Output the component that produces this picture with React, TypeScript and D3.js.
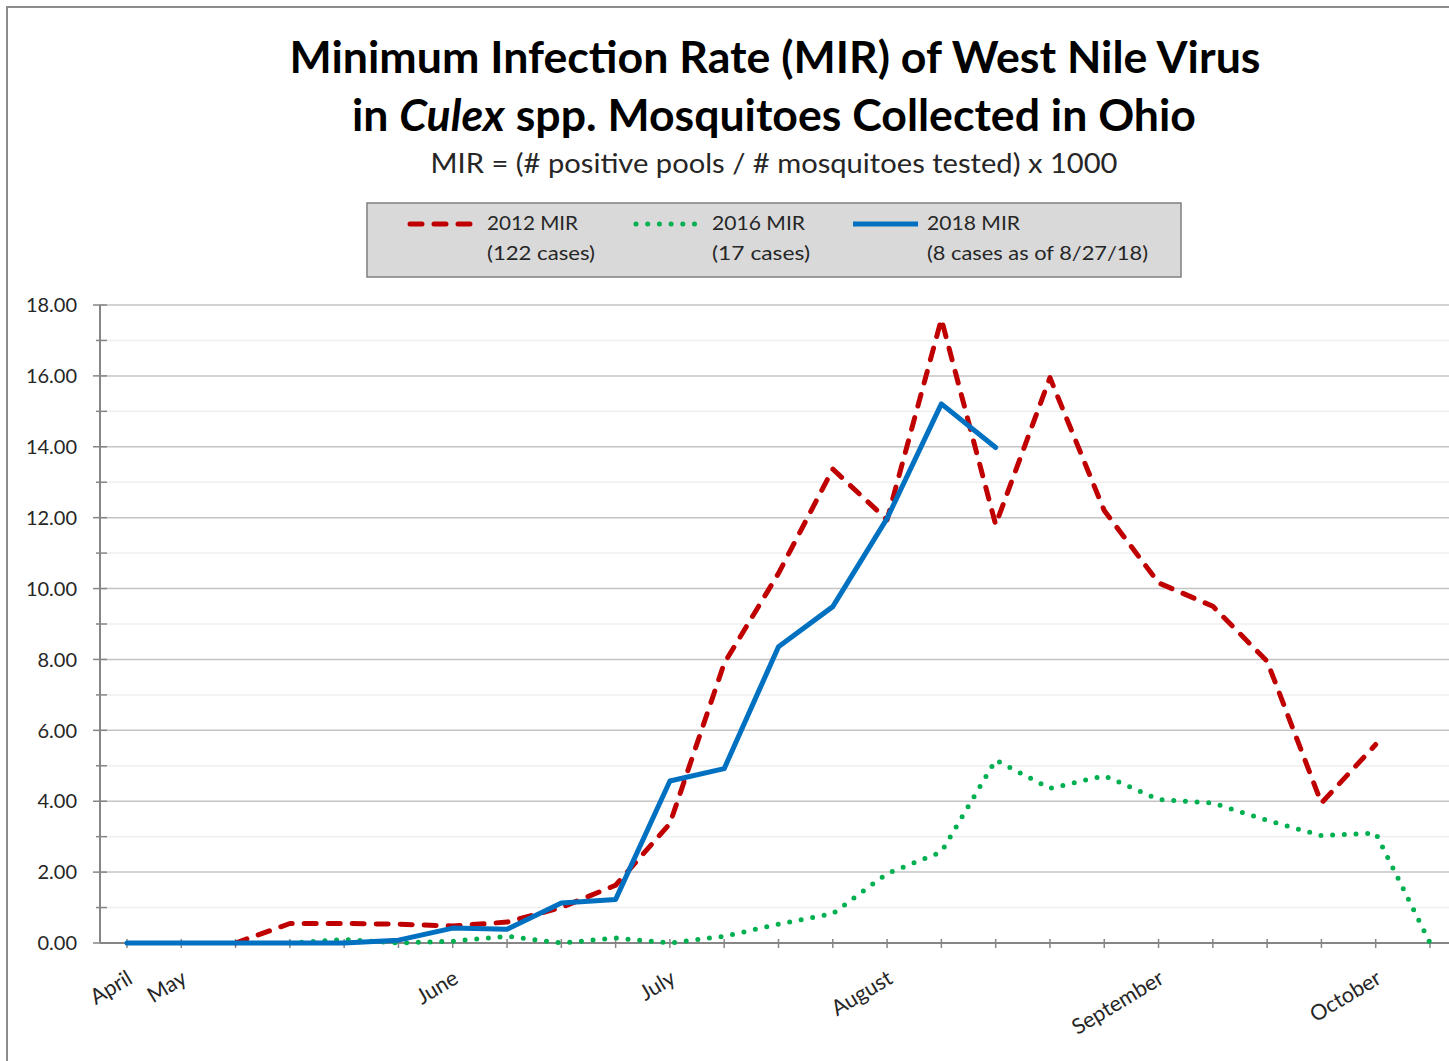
import * as d3 from "d3";
import { useRef, useEffect } from "react";

// weekly categories (x axis), most labels blank like the Excel source
const weekLabels = [
  "April", "May", "", "", "", "", "June", "", "", "", "July", "", "", "",
  "August", "", "", "", "", "September", "", "", "", "October", "",
];

const mir2012 = [
  null, null, 0, 0.55, 0.55, 0.53, 0.48, 0.59, 1.0, 1.63, 3.37, 7.89, 10.43,
  13.37, 11.94, 17.6, 11.8, 15.95, 12.2, 10.16, 9.5, 7.95, 3.95, 5.6, null,
];
const mir2016 = [
  null, null, null, 0, 0.1, 0, 0.05, 0.19, 0, 0.14, 0, 0.19, 0.53, 0.83, 1.96,
  2.57, 5.16, 4.36, 4.72, 4.05, 3.95, 3.46, 3.03, 3.1, 0,
];
const mir2018 = [
  0, 0, 0, 0, 0, 0.08, 0.42, 0.39, 1.13, 1.23, 4.57, 4.92, 8.36, 9.49, 11.98,
  15.21, 13.98, null, null, null, null, null, null, null, null,
];

const yTicks = [0, 2, 4, 6, 8, 10, 12, 14, 16, 18];

const seriesInfo = [
  { name: "2012 MIR", note: "(122 cases)", values: mir2012, color: "#c00000", dash: "12 12", width: 5 },
  { name: "2016 MIR", note: "(17 cases)", values: mir2016, color: "#00b050", dash: "0 11.7", width: 5 },
  { name: "2018 MIR", note: "(8 cases as of 8/27/18)", values: mir2018, color: "#0070c0", dash: null, width: 5 },
];

export default function App() {
  const width = 1449;
  const height = 1061;
  const plotLeft = 100;
  const plotTop = 305;
  const plotBottom = 943;
  const font = "Lato, 'Open Sans', sans-serif";

  const ref = useRef(null);
  useEffect((): void => {
    if (!ref.current) return;
    const svg = d3.select(ref.current);
    svg.selectAll("*").remove();

    const x = d3.scalePoint<number>().domain(d3.range(weekLabels.length)).range([127, 1430]);
    const y = d3.scaleLinear().domain([0, 18]).range([plotBottom, plotTop]);

    // chart frame
    svg.append("rect").attr("width", width).attr("height", height).attr("fill", "#fff");
    svg.append("path").attr("d", `M7,${height} V7 H${width}`).attr("fill", "none").attr("stroke", "#8c8c8c").attr("stroke-width", 2);

    // titles
    svg.append("text").attr("x", 775).attr("y", 73).attr("text-anchor", "middle")
      .attr("font-family", font).attr("font-weight", "bold").attr("font-size", 43)
      .attr("textLength", 971).attr("lengthAdjust", "spacingAndGlyphs").attr("fill", "#000")
      .text("Minimum Infection Rate (MIR) of West Nile Virus");
    const t2 = svg.append("text").attr("x", 774).attr("y", 131).attr("text-anchor", "middle")
      .attr("font-family", font).attr("font-weight", "bold").attr("font-size", 43)
      .attr("textLength", 844).attr("lengthAdjust", "spacingAndGlyphs").attr("fill", "#000");
    t2.append("tspan").text("in ");
    t2.append("tspan").attr("font-style", "italic").text("Culex");
    t2.append("tspan").text(" spp. Mosquitoes Collected in Ohio");
    svg.append("text").attr("x", 774).attr("y", 173).attr("text-anchor", "middle")
      .attr("font-family", font).attr("font-size", 27).attr("fill", "#262626")
      .attr("textLength", 687).attr("lengthAdjust", "spacingAndGlyphs")
      .text("MIR = (# positive pools / # mosquitoes tested) x 1000");

    // legend
    svg.append("rect").attr("x", 367).attr("y", 203).attr("width", 814).attr("height", 74)
      .attr("fill", "#d9d9d9").attr("stroke", "#7f7f7f").attr("stroke-width", 1.5);
    const legendX = [[410, 472, 487, 91, 108], [636, 699, 712, 93, 98], [853, 918, 927, 93, 221]];
    seriesInfo.forEach((s, i) => {
      const [a, b, tx, tl, nl] = legendX[i];
      svg.append("line").attr("x1", a).attr("x2", b).attr("y1", 224).attr("y2", 224)
        .attr("stroke", s.color).attr("stroke-width", s.width)
        .attr("stroke-linecap", s.dash ? "round" : "butt")
        .attr("stroke-dasharray", s.dash);
      svg.append("text").attr("x", tx).attr("y", 230).attr("font-family", font).attr("font-size", 20)
        .attr("fill", "#262626").attr("textLength", tl).attr("lengthAdjust", "spacingAndGlyphs").text(s.name);
      svg.append("text").attr("x", tx).attr("y", 260).attr("font-family", font).attr("font-size", 20)
        .attr("fill", "#262626").attr("textLength", nl).attr("lengthAdjust", "spacingAndGlyphs").text(s.note);
    });

    // gridlines (minor every 1, major every 2)
    const grid = svg.append("g");
    d3.range(1, 18, 2).forEach((v) => {
      grid.append("line").attr("x1", plotLeft).attr("x2", width).attr("y1", y(v)).attr("y2", y(v))
        .attr("stroke", "#efefef").attr("stroke-width", 1.5);
    });
    yTicks.filter((v) => v > 0).forEach((v) => {
      grid.append("line").attr("x1", plotLeft).attr("x2", width).attr("y1", y(v)).attr("y2", y(v))
        .attr("stroke", "#c4c4c4").attr("stroke-width", 1.5);
    });

    // y axis
    const yAxis = svg.append("g");
    yAxis.append("line").attr("x1", plotLeft).attr("x2", plotLeft).attr("y1", plotTop).attr("y2", plotBottom)
      .attr("stroke", "#868686").attr("stroke-width", 2);
    d3.range(0, 19).forEach((v) => {
      const major = v % 2 === 0;
      yAxis.append("line").attr("x1", major ? 93 : 96).attr("x2", 107).attr("y1", y(v)).attr("y2", y(v))
        .attr("stroke", "#868686").attr("stroke-width", 1.5);
    });
    yAxis.selectAll("text").data(yTicks).join("text")
      .attr("x", 77).attr("y", (d) => y(d)).attr("dy", "0.36em").attr("text-anchor", "end")
      .attr("font-family", font).attr("font-size", 20).attr("fill", "#262626")
      .text((d) => d3.format(".2f")(d));

    // x axis
    const xAxis = svg.append("g");
    xAxis.append("line").attr("x1", plotLeft).attr("x2", width).attr("y1", plotBottom).attr("y2", plotBottom)
      .attr("stroke", "#868686").attr("stroke-width", 2);
    weekLabels.forEach((lab, i) => {
      xAxis.append("line").attr("x1", x(i)).attr("x2", x(i)).attr("y1", plotBottom - 4).attr("y2", plotBottom + 5)
        .attr("stroke", "#868686").attr("stroke-width", 1.5);
      if (lab) {
        xAxis.append("text")
          .attr("transform", `translate(${(x(i) as number) - 1},${plotBottom + 26}) rotate(-31)`)
          .attr("dy", "0.72em").attr("text-anchor", "end")
          .attr("font-family", font).attr("font-size", 21.5).attr("fill", "#262626")
          .text(lab);
      }
    });

    // series lines
    const line = d3.line<number | null>()
      .defined((d) => d !== null)
      .x((_, i) => x(i) as number)
      .y((d) => y(d as number))
      .curve(d3.curveLinear);
    seriesInfo.forEach((s) => {
      svg.append("path").attr("d", line(s.values)).attr("fill", "none")
        .attr("stroke", s.color).attr("stroke-width", s.width)
        .attr("stroke-linejoin", "round")
        .attr("stroke-linecap", "round")
        .attr("stroke-dasharray", s.dash);
    });
  }, []);

  return (
    <svg ref={ref} width={width} height={height}
      style={{ position: "absolute", left: 0, top: 0, display: "block" }} />
  );
}
